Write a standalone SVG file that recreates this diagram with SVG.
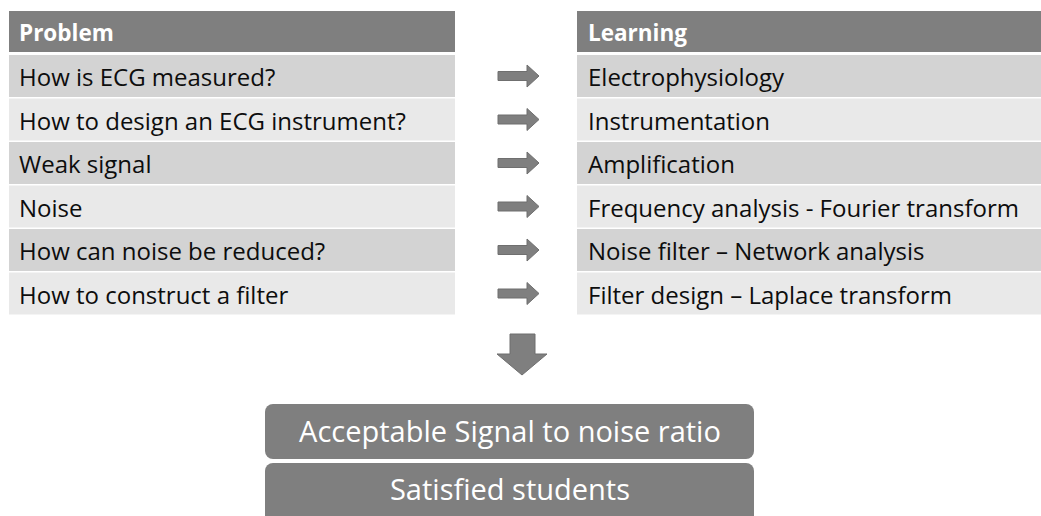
<svg xmlns="http://www.w3.org/2000/svg" width="1041" height="516" viewBox="0 0 1041 516">
<defs>
<style>
.hdr{fill:#7f7f7f}
.odd{fill:#d3d3d3}
.even{fill:#e9e9e9}
.ht{font-family:"Open Sans","Liberation Sans",sans-serif;font-weight:bold;font-size:22.5px;fill:#ffffff}
.rt{font-family:"Open Sans","Liberation Sans",sans-serif;font-size:24px;fill:#0d0d0d}
.box{fill:#7f7f7f}
.bt{font-family:"Open Sans","Liberation Sans",sans-serif;font-size:29px;fill:#ffffff;text-anchor:middle}
.arr{fill:#7f7f7f;stroke:#6f6f6f;stroke-width:1}
</style>
<path id="ra" d="M0,-4.5 H29 V-11 L41,0 L29,11 V4.5 H0 Z"/>
</defs>
<rect width="1041" height="516" fill="#ffffff"/>
<g id="problem">
<rect class="hdr" x="9" y="11" width="446" height="41"/>
<text class="ht" x="19" y="41">Problem</text>
</g>
<g id="p1"><rect class="odd" x="9" y="55" width="446" height="42"/><text class="rt" x="19" y="86">How is ECG measured?</text></g>
<g id="p2"><rect class="even" x="9" y="98.5" width="446" height="42"/><text class="rt" x="19" y="129.5">How to design an ECG instrument?</text></g>
<g id="p3"><rect class="odd" x="9" y="142" width="446" height="42"/><text class="rt" x="19" y="173">Weak signal</text></g>
<g id="p4"><rect class="even" x="9" y="185.5" width="446" height="42"/><text class="rt" x="19" y="216.5">Noise</text></g>
<g id="p5"><rect class="odd" x="9" y="229" width="446" height="42"/><text class="rt" x="19" y="260">How can noise be reduced?</text></g>
<g id="p6"><rect class="even" x="9" y="272.5" width="446" height="42"/><text class="rt" x="19" y="303.5">How to construct a filter</text></g>
<g id="learning">
<rect class="hdr" x="577" y="11" width="464" height="41"/>
<text class="ht" x="588" y="41">Learning</text>
</g>
<g id="l1"><rect class="odd" x="577" y="55" width="464" height="42"/><text class="rt" x="588" y="86">Electrophysiology</text></g>
<g id="l2"><rect class="even" x="577" y="98.5" width="464" height="42"/><text class="rt" x="588" y="129.5">Instrumentation</text></g>
<g id="l3"><rect class="odd" x="577" y="142" width="464" height="42"/><text class="rt" x="588" y="173">Amplification</text></g>
<g id="l4"><rect class="even" x="577" y="185.5" width="464" height="42"/><text class="rt" x="588" y="216.5">Frequency analysis - Fourier transform</text></g>
<g id="l5"><rect class="odd" x="577" y="229" width="464" height="42"/><text class="rt" x="588" y="260">Noise filter – Network analysis</text></g>
<g id="l6"><rect class="even" x="577" y="272.5" width="464" height="42"/><text class="rt" x="588" y="303.5">Filter design – Laplace transform</text></g>
<g id="connectors">
<use href="#ra" class="arr" transform="translate(498,76)"/>
<use href="#ra" class="arr" transform="translate(498,119.5)"/>
<use href="#ra" class="arr" transform="translate(498,163)"/>
<use href="#ra" class="arr" transform="translate(498,206.5)"/>
<use href="#ra" class="arr" transform="translate(498,250)"/>
<use href="#ra" class="arr" transform="translate(498,293.5)"/>
<path class="arr" d="M510,334 H535 V354 H547 L522,375 L497,354 H510 Z"/>
</g>
<g id="snr">
<rect class="box" x="265" y="404" width="489" height="55" rx="8"/>
<text class="bt" x="510" y="442">Acceptable Signal to noise ratio</text>
</g>
<g id="students">
<rect class="box" x="265" y="463" width="489" height="60" rx="8"/>
<text class="bt" x="510" y="500">Satisfied students</text>
</g>
</svg>
